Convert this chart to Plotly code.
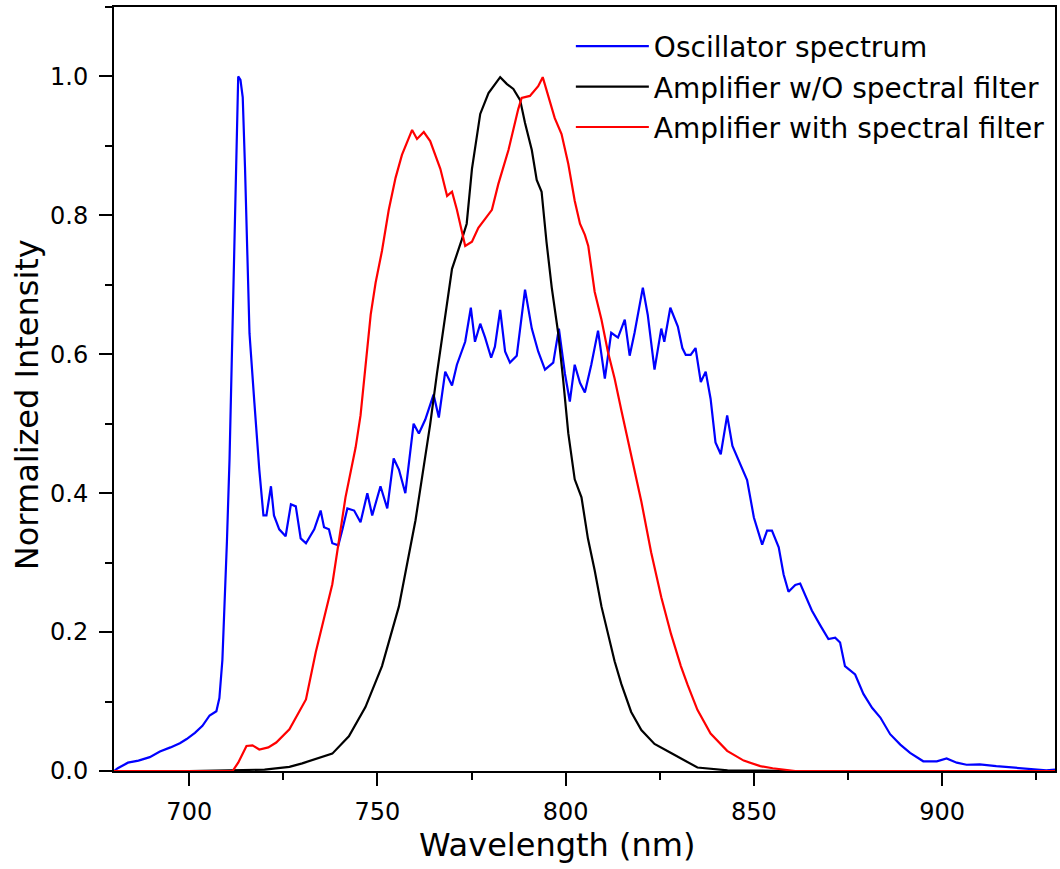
import plotly.graph_objects as go

# Oscillator spectrum (blue)
blue_x = [680, 681, 683.7, 686.5, 689.5, 692.2, 695, 697.5, 699.3, 701.5, 703.5, 705.4, 707.2, 708, 708.8,
          709.4, 710, 710.7, 711.3, 711.9, 712.5, 713.0, 713.6, 714.2, 714.8, 715.4, 716.0, 717.3, 718.6,
          719.7, 720.5, 721.7, 722.5, 723.9, 725.6, 727.0, 728.3, 729.6, 731.0, 733.2, 734.9, 735.8, 737.1,
          738.0, 739.6, 740.7, 742.0, 743.8, 745.5, 747.3, 748.6, 750.8, 752.6, 754.3, 755.7, 757.4, 759.6,
          761.0, 762.7, 764.9, 766.3, 768.0, 769.8, 771.1, 772.4, 773.3, 774.8, 775.9, 777.3, 778.6, 780.2,
          781.2, 782.6, 783.9, 785.2, 787.0, 789.2, 791.0, 792.7, 794.5, 796.7, 798.2, 799.8, 801.1, 802.4,
          803.8, 805.1, 806.8, 808.6, 810.4, 812.1, 813.9, 815.7, 817.0, 818.3, 820.5, 821.8, 823.6, 825.4,
          826.2, 827.8, 829.8, 831.0, 831.9, 833.2, 834.5, 835.9, 837.2, 838.5, 839.8, 841.2, 842.9, 844.3,
          846.9, 848.2, 850.0, 852.2, 853.5, 854.8, 856.6, 857.9, 859.2, 861.0, 862.3, 863.6, 865.4, 867.6,
          869.8, 871.6, 872.9, 874.2, 876.9, 879.1, 881.4, 883.6, 886.2, 888.9, 891.5, 895.0, 898.6, 901.2,
          903.9, 906.5, 910.0, 914.4, 918.8, 923.3, 927.7, 930]
blue_y = [0.0, 0.004, 0.012, 0.015, 0.02, 0.028, 0.034, 0.04, 0.046, 0.055, 0.065, 0.08, 0.086, 0.105, 0.16,
          0.24, 0.33, 0.45, 0.6, 0.75, 0.9, 1.0, 0.995, 0.97, 0.87, 0.74, 0.63, 0.53, 0.434,
          0.368, 0.368, 0.41, 0.368, 0.348, 0.338, 0.384, 0.381, 0.335, 0.328, 0.348, 0.375, 0.351, 0.348,
          0.328, 0.325, 0.348, 0.378, 0.375, 0.358, 0.40, 0.368, 0.41, 0.378, 0.45, 0.434, 0.40, 0.50,
          0.486, 0.506, 0.542, 0.509, 0.575, 0.555, 0.585, 0.605, 0.618, 0.667, 0.618, 0.644, 0.624, 0.595,
          0.611, 0.664, 0.604, 0.588, 0.598, 0.693, 0.637, 0.604, 0.578, 0.588, 0.637, 0.572, 0.532, 0.585,
          0.559, 0.545, 0.585, 0.634, 0.565, 0.631, 0.624, 0.65, 0.598, 0.631, 0.696, 0.657, 0.578, 0.637,
          0.618, 0.667, 0.640, 0.609, 0.599, 0.599, 0.609, 0.56, 0.575, 0.536, 0.473, 0.456, 0.512, 0.468,
          0.434, 0.419, 0.365, 0.326, 0.346, 0.346, 0.322, 0.283, 0.258, 0.268, 0.27, 0.253, 0.231, 0.21,
          0.19, 0.192, 0.185, 0.151, 0.139, 0.111, 0.091, 0.077, 0.053, 0.038, 0.026, 0.014, 0.014, 0.018,
          0.012, 0.009, 0.0096, 0.007, 0.005, 0.002, 0.001, 0.002]

# Amplifier without spectral filter (black)
black_x = [680, 700, 720, 726.6, 730, 733.6, 738, 742.4, 746.8, 751.2, 755.7, 760.1, 764.0, 765.8, 768.0,
           769.8, 772.4, 773.7, 775.1, 777.3, 779.5, 781.2, 782.6, 784.4, 786.1, 787.9, 789.2, 791.0, 792.3,
           793.6, 794.9, 796.3, 798.0, 799.3, 800.7, 802.4, 804.2, 805.9, 807.7, 809.5, 811.2, 813.0, 814.8,
           817.4, 820.1, 823.6, 828.0, 832.4, 835.0, 843.0, 860, 900, 930]
black_y = [0, 0, 0.002, 0.006, 0.011, 0.017, 0.025, 0.05, 0.092, 0.151, 0.237, 0.361, 0.499, 0.572, 0.657,
           0.723, 0.765, 0.788, 0.867, 0.946, 0.976, 0.989, 0.999, 0.989, 0.982, 0.966, 0.933, 0.894, 0.851,
           0.834, 0.762, 0.696, 0.631, 0.565, 0.486, 0.42, 0.394, 0.335, 0.289, 0.237, 0.197, 0.158, 0.125,
           0.085, 0.059, 0.039, 0.026, 0.013, 0.005, 0.001, 0, 0, 0]

# Amplifier with spectral filter (red)
red_x = [680, 711.5, 713, 715.2, 716.8, 718.6, 721, 723.1, 726.6, 729.2, 731, 733.6, 738, 741.5, 744.2,
         745.5, 746.8, 748.2, 749.5, 751.2, 753, 754.8, 756.5, 758.3, 759.2, 760.5, 762.3, 764, 765.4,
         766.7, 768.5, 769.8, 771.1, 772.4, 773.3, 775.1, 776.8, 778.6, 780.4, 782.1, 784.8, 787.4, 788.3,
         790.5, 792.7, 793.9, 795.4, 797.1, 798.9, 800.7, 802.4, 803.8, 805.1, 806, 807.7, 809.5, 811.2,
         813, 814.8, 817.4, 820.1, 822.7, 825.4, 828, 830.6, 832.4, 835, 838.5, 842.9, 847.3, 851.7, 855,
         858.8, 861, 930]
red_y = [0, 0, 0.012, 0.036, 0.037, 0.031, 0.034, 0.041, 0.06, 0.085, 0.103, 0.171, 0.269, 0.394, 0.466,
         0.512, 0.578, 0.657, 0.703, 0.749, 0.808, 0.854, 0.887, 0.913, 0.923, 0.910, 0.920, 0.907, 0.887,
         0.867, 0.828, 0.834, 0.808, 0.775, 0.756, 0.762, 0.782, 0.795, 0.808, 0.845, 0.894, 0.953, 0.969,
         0.972, 0.986, 0.999, 0.972, 0.94, 0.917, 0.874, 0.821, 0.788, 0.772, 0.756, 0.69, 0.65, 0.604,
         0.565, 0.519, 0.453, 0.388, 0.315, 0.25, 0.197, 0.151, 0.124, 0.088, 0.054, 0.029, 0.015, 0.007, 0.004,
         0.002, 0, 0]

assert len(blue_x) == len(blue_y), (len(blue_x), len(blue_y))
assert len(black_x) == len(black_y), (len(black_x), len(black_y))
assert len(red_x) == len(red_y), (len(red_x), len(red_y))

series_names = ["Oscillator spectrum", "Amplifier w/O spectral filter", "Amplifier with spectral filter"]
x_tick_vals = [700, 750, 800, 850, 900]
y_tick_vals = [0.0, 0.2, 0.4, 0.6, 0.8, 1.0]

FONT = "DejaVu Sans"

fig = go.Figure()
for name, xs, ys, col in [
    (series_names[0], blue_x, blue_y, "#0000FF"),
    (series_names[1], black_x, black_y, "#000000"),
    (series_names[2], red_x, red_y, "#FF0000"),
]:
    fig.add_trace(go.Scatter(x=xs, y=ys, mode="lines", name=name, legendgroup=name,
                             line=dict(color=col, width=2.2)))

axis_common = dict(
    showgrid=False, zeroline=False, showline=True, linecolor="black", linewidth=2,
    mirror=True, ticks="outside", ticklen=13, tickwidth=2, tickcolor="black",
    tickfont=dict(family=FONT, size=24, color="black"),
)

fig.update_xaxes(range=[680, 930], tickvals=x_tick_vals, ticklabelstandoff=5,
                 minor=dict(ticks="outside", ticklen=7, tickwidth=2, tickcolor="black", dtick=25, tick0=0),
                 **axis_common)
fig.update_yaxes(range=[0, 1.1], tickvals=y_tick_vals, tickformat=".1f", ticklabelstandoff=6,
                 minor=dict(ticks="outside", ticklen=7, tickwidth=2, tickcolor="black", dtick=0.1, tick0=0),
                 **axis_common)

fig.update_layout(
    width=1060, height=869,
    margin=dict(l=114, r=3, t=7, b=98),
    paper_bgcolor="white", plot_bgcolor="white",
    font=dict(family=FONT, color="black"),
    showlegend=True,
    legend=dict(x=0.4855, y=0.981, xanchor="left", yanchor="top", bgcolor="rgba(0,0,0,0)",
                borderwidth=0, font=dict(family=FONT, size=28, color="black"),
                itemwidth=73, tracegroupgap=1, traceorder="grouped"),
    annotations=[
        dict(text="Wavelength (nm)", xref="paper", yref="paper", x=0.471, y=-0.097,
             xanchor="center", yanchor="middle", showarrow=False,
             font=dict(family=FONT, size=32, color="black")),
        dict(text="Normalized Intensity", xref="paper", yref="paper", x=-0.093, y=0.4795,
             xanchor="center", yanchor="middle", textangle=-90, showarrow=False,
             font=dict(family=FONT, size=32, color="black")),
    ],
)

fig.write_html("out.html")
